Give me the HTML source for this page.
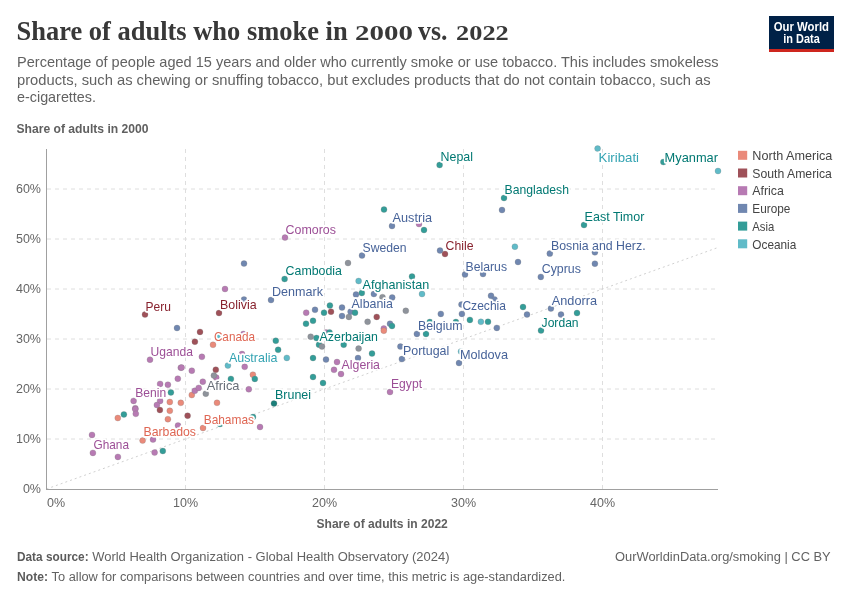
<!DOCTYPE html>
<html><head><meta charset="utf-8">
<style>
html,body{margin:0;padding:0;background:#fff;}
body{width:850px;height:600px;overflow:hidden;}
svg{display:block;will-change:transform;}
text{font-family:"Liberation Sans",sans-serif;}
.ser{font-family:"Liberation Serif",serif;}
</style></head><body>
<svg width="850" height="600" viewBox="0 0 850 600">
<rect x="0" y="0" width="850" height="600" fill="#fff"/>
<text class="ser" x="16.6" y="40.2" font-size="28" font-weight="bold" fill="#383838" textLength="331.0" lengthAdjust="spacingAndGlyphs">Share of adults who smoke in</text>
<text class="ser" x="355.1" y="40.2" font-size="20.5" font-weight="bold" fill="#383838" textLength="57.9" lengthAdjust="spacingAndGlyphs">2000</text>
<text class="ser" x="418.0" y="40.2" font-size="28" font-weight="bold" fill="#383838" textLength="29.4" lengthAdjust="spacingAndGlyphs">vs.</text>
<text class="ser" x="456.1" y="40.2" font-size="20.5" font-weight="bold" fill="#383838" textLength="52.7" lengthAdjust="spacingAndGlyphs">2022</text>
<text x="17" y="66.7" font-size="15" fill="#626262" textLength="701.6" lengthAdjust="spacingAndGlyphs">Percentage of people aged 15 years and older who currently smoke or use tobacco. This includes smokeless</text>
<text x="17" y="84.6" font-size="15" fill="#626262" textLength="693.7" lengthAdjust="spacingAndGlyphs">products, such as chewing or snuffing tobacco, but excludes products that do not contain tobacco, such as</text>
<text x="17" y="102.0" font-size="15" fill="#626262" textLength="79.0" lengthAdjust="spacingAndGlyphs">e-cigarettes.</text>
<rect x="769" y="16" width="65" height="36" fill="#002147"/>
<rect x="769" y="49" width="65" height="3" fill="#ce261e"/>
<text x="773.8" y="30.6" font-size="12" font-weight="bold" fill="#fff" textLength="55.2" lengthAdjust="spacingAndGlyphs">Our World</text>
<text x="783.3" y="42.7" font-size="12" font-weight="bold" fill="#fff" textLength="36.5" lengthAdjust="spacingAndGlyphs">in Data</text>
<text x="16.5" y="133" font-size="13" font-weight="bold" fill="#606060" textLength="132" lengthAdjust="spacingAndGlyphs">Share of adults in 2000</text>
<line x1="47" y1="439.0" x2="718" y2="439.0" stroke="#dedede" stroke-width="1" stroke-dasharray="4 4"/>
<line x1="47" y1="389.0" x2="718" y2="389.0" stroke="#dedede" stroke-width="1" stroke-dasharray="4 4"/>
<line x1="47" y1="339.0" x2="718" y2="339.0" stroke="#dedede" stroke-width="1" stroke-dasharray="4 4"/>
<line x1="47" y1="289.0" x2="718" y2="289.0" stroke="#dedede" stroke-width="1" stroke-dasharray="4 4"/>
<line x1="47" y1="239.0" x2="718" y2="239.0" stroke="#dedede" stroke-width="1" stroke-dasharray="4 4"/>
<line x1="47" y1="189.0" x2="718" y2="189.0" stroke="#dedede" stroke-width="1" stroke-dasharray="4 4"/>
<line x1="185.5" y1="149" x2="185.5" y2="489" stroke="#dedede" stroke-width="1" stroke-dasharray="4 4"/>
<line x1="324.5" y1="149" x2="324.5" y2="489" stroke="#dedede" stroke-width="1" stroke-dasharray="4 4"/>
<line x1="463.5" y1="149" x2="463.5" y2="489" stroke="#dedede" stroke-width="1" stroke-dasharray="4 4"/>
<line x1="602.5" y1="149" x2="602.5" y2="489" stroke="#dedede" stroke-width="1" stroke-dasharray="4 4"/>
<line x1="46.5" y1="489" x2="718" y2="247.5" stroke="#c4c4c4" stroke-width="0.8" stroke-dasharray="2 3"/>
<line x1="46.5" y1="149" x2="46.5" y2="489.5" stroke="#a0a0a0" stroke-width="1"/>
<line x1="46" y1="489.5" x2="718" y2="489.5" stroke="#a0a0a0" stroke-width="1"/>
<text x="41" y="493.4" font-size="12.5" fill="#666" text-anchor="end">0%</text>
<text x="41" y="443.4" font-size="12.5" fill="#666" text-anchor="end">10%</text>
<text x="41" y="393.4" font-size="12.5" fill="#666" text-anchor="end">20%</text>
<text x="41" y="343.4" font-size="12.5" fill="#666" text-anchor="end">30%</text>
<text x="41" y="293.4" font-size="12.5" fill="#666" text-anchor="end">40%</text>
<text x="41" y="243.4" font-size="12.5" fill="#666" text-anchor="end">50%</text>
<text x="41" y="193.4" font-size="12.5" fill="#666" text-anchor="end">60%</text>
<text x="47" y="507" font-size="12.5" fill="#666">0%</text>
<text x="185.5" y="507" font-size="12.5" fill="#666" text-anchor="middle">10%</text>
<text x="324.5" y="507" font-size="12.5" fill="#666" text-anchor="middle">20%</text>
<text x="463.5" y="507" font-size="12.5" fill="#666" text-anchor="middle">30%</text>
<text x="602.5" y="507" font-size="12.5" fill="#666" text-anchor="middle">40%</text>
<text x="316.5" y="528.1" font-size="13" font-weight="bold" fill="#606060" textLength="131.3" lengthAdjust="spacingAndGlyphs">Share of adults in 2022</text>
<circle cx="92" cy="434.9" r="3" fill="#b77ab3" stroke="#777" stroke-opacity="0.5" stroke-width="0.5"/>
<circle cx="92.9" cy="452.9" r="3" fill="#b77ab3" stroke="#777" stroke-opacity="0.5" stroke-width="0.5"/>
<circle cx="117.9" cy="456.9" r="3" fill="#b77ab3" stroke="#777" stroke-opacity="0.5" stroke-width="0.5"/>
<circle cx="117.8" cy="418" r="3" fill="#ea8a7a" stroke="#777" stroke-opacity="0.5" stroke-width="0.5"/>
<circle cx="123.9" cy="414.4" r="3" fill="#339d98" stroke="#777" stroke-opacity="0.5" stroke-width="0.5"/>
<circle cx="133.6" cy="400.9" r="3" fill="#b77ab3" stroke="#777" stroke-opacity="0.5" stroke-width="0.5"/>
<circle cx="135.3" cy="408.2" r="3" fill="#b77ab3" stroke="#777" stroke-opacity="0.5" stroke-width="0.5"/>
<circle cx="135.3" cy="409.2" r="3" fill="#b77ab3" stroke="#777" stroke-opacity="0.5" stroke-width="0.5"/>
<circle cx="135.8" cy="413.8" r="3" fill="#b77ab3" stroke="#777" stroke-opacity="0.5" stroke-width="0.5"/>
<circle cx="142.6" cy="440.6" r="3" fill="#ea8a7a" stroke="#777" stroke-opacity="0.5" stroke-width="0.5"/>
<circle cx="153" cy="439.6" r="3" fill="#b77ab3" stroke="#777" stroke-opacity="0.5" stroke-width="0.5"/>
<circle cx="154.6" cy="452.6" r="3" fill="#b77ab3" stroke="#777" stroke-opacity="0.5" stroke-width="0.5"/>
<circle cx="162.8" cy="451" r="3" fill="#339d98" stroke="#777" stroke-opacity="0.5" stroke-width="0.5"/>
<circle cx="160.1" cy="383.9" r="3" fill="#b77ab3" stroke="#777" stroke-opacity="0.5" stroke-width="0.5"/>
<circle cx="167.9" cy="384.7" r="3" fill="#b77ab3" stroke="#777" stroke-opacity="0.5" stroke-width="0.5"/>
<circle cx="177.8" cy="378.7" r="3" fill="#b77ab3" stroke="#777" stroke-opacity="0.5" stroke-width="0.5"/>
<circle cx="191.8" cy="370.7" r="3" fill="#b77ab3" stroke="#777" stroke-opacity="0.5" stroke-width="0.5"/>
<circle cx="180.8" cy="367.7" r="3" fill="#b77ab3" stroke="#777" stroke-opacity="0.5" stroke-width="0.5"/>
<circle cx="170.9" cy="392.4" r="3" fill="#339d98" stroke="#777" stroke-opacity="0.5" stroke-width="0.5"/>
<circle cx="160.1" cy="400.9" r="3" fill="#b77ab3" stroke="#777" stroke-opacity="0.5" stroke-width="0.5"/>
<circle cx="156.9" cy="405" r="3" fill="#b77ab3" stroke="#777" stroke-opacity="0.5" stroke-width="0.5"/>
<circle cx="159.9" cy="410" r="3" fill="#9f5159" stroke="#777" stroke-opacity="0.5" stroke-width="0.5"/>
<circle cx="169.8" cy="402" r="3" fill="#ea8a7a" stroke="#777" stroke-opacity="0.5" stroke-width="0.5"/>
<circle cx="169.8" cy="410.8" r="3" fill="#ea8a7a" stroke="#777" stroke-opacity="0.5" stroke-width="0.5"/>
<circle cx="167.9" cy="419.2" r="3" fill="#ea8a7a" stroke="#777" stroke-opacity="0.5" stroke-width="0.5"/>
<circle cx="180.8" cy="402.8" r="3" fill="#ea8a7a" stroke="#777" stroke-opacity="0.5" stroke-width="0.5"/>
<circle cx="178" cy="425.6" r="3" fill="#b77ab3" stroke="#777" stroke-opacity="0.5" stroke-width="0.5"/>
<circle cx="187.6" cy="415.7" r="3" fill="#9f5159" stroke="#777" stroke-opacity="0.5" stroke-width="0.5"/>
<circle cx="191.8" cy="395" r="3" fill="#ea8a7a" stroke="#777" stroke-opacity="0.5" stroke-width="0.5"/>
<circle cx="194.8" cy="390.8" r="3" fill="#b77ab3" stroke="#777" stroke-opacity="0.5" stroke-width="0.5"/>
<circle cx="198.7" cy="387.9" r="3" fill="#b77ab3" stroke="#777" stroke-opacity="0.5" stroke-width="0.5"/>
<circle cx="202.8" cy="381.7" r="3" fill="#b77ab3" stroke="#777" stroke-opacity="0.5" stroke-width="0.5"/>
<circle cx="205.8" cy="393.7" r="3" fill="#8e939b" stroke="#777" stroke-opacity="0.5" stroke-width="0.5"/>
<circle cx="203" cy="428" r="3" fill="#ea8a7a" stroke="#777" stroke-opacity="0.5" stroke-width="0.5"/>
<circle cx="217" cy="402.8" r="3" fill="#ea8a7a" stroke="#777" stroke-opacity="0.5" stroke-width="0.5"/>
<circle cx="145" cy="314.6" r="3" fill="#9f5159" stroke="#777" stroke-opacity="0.5" stroke-width="0.5"/>
<circle cx="177" cy="328" r="3" fill="#7087b0" stroke="#777" stroke-opacity="0.5" stroke-width="0.5"/>
<circle cx="200" cy="331.9" r="3" fill="#9f5159" stroke="#777" stroke-opacity="0.5" stroke-width="0.5"/>
<circle cx="194.9" cy="341.7" r="3" fill="#9f5159" stroke="#777" stroke-opacity="0.5" stroke-width="0.5"/>
<circle cx="150" cy="359.7" r="3" fill="#b77ab3" stroke="#777" stroke-opacity="0.5" stroke-width="0.5"/>
<circle cx="201.9" cy="356.8" r="3" fill="#b77ab3" stroke="#777" stroke-opacity="0.5" stroke-width="0.5"/>
<circle cx="181.6" cy="367.6" r="3" fill="#b77ab3" stroke="#777" stroke-opacity="0.5" stroke-width="0.5"/>
<circle cx="216.2" cy="377.6" r="3" fill="#b77ab3" stroke="#777" stroke-opacity="0.5" stroke-width="0.5"/>
<circle cx="213.9" cy="375.6" r="3" fill="#8e939b" stroke="#777" stroke-opacity="0.5" stroke-width="0.5"/>
<circle cx="215.8" cy="369.7" r="3" fill="#9f5159" stroke="#777" stroke-opacity="0.5" stroke-width="0.5"/>
<circle cx="230.9" cy="378.9" r="3" fill="#339d98" stroke="#777" stroke-opacity="0.5" stroke-width="0.5"/>
<circle cx="252.9" cy="374.7" r="3" fill="#ea8a7a" stroke="#777" stroke-opacity="0.5" stroke-width="0.5"/>
<circle cx="254.8" cy="378.9" r="3" fill="#339d98" stroke="#777" stroke-opacity="0.5" stroke-width="0.5"/>
<circle cx="248.8" cy="389.3" r="3" fill="#b77ab3" stroke="#777" stroke-opacity="0.5" stroke-width="0.5"/>
<circle cx="274" cy="403.4" r="3" fill="#1c7f7a" stroke="#777" stroke-opacity="0.5" stroke-width="0.5"/>
<circle cx="253" cy="417" r="3" fill="#339d98" stroke="#777" stroke-opacity="0.5" stroke-width="0.5"/>
<circle cx="220" cy="424" r="3" fill="#339d98" stroke="#777" stroke-opacity="0.5" stroke-width="0.5"/>
<circle cx="260" cy="427" r="3" fill="#b77ab3" stroke="#777" stroke-opacity="0.5" stroke-width="0.5"/>
<circle cx="313" cy="377" r="3" fill="#339d98" stroke="#777" stroke-opacity="0.5" stroke-width="0.5"/>
<circle cx="323" cy="383" r="3" fill="#339d98" stroke="#777" stroke-opacity="0.5" stroke-width="0.5"/>
<circle cx="334" cy="369.8" r="3" fill="#b77ab3" stroke="#777" stroke-opacity="0.5" stroke-width="0.5"/>
<circle cx="341" cy="374" r="3" fill="#b77ab3" stroke="#777" stroke-opacity="0.5" stroke-width="0.5"/>
<circle cx="227.9" cy="365.6" r="3" fill="#60bbc8" stroke="#777" stroke-opacity="0.5" stroke-width="0.5"/>
<circle cx="244.7" cy="366.8" r="3" fill="#b77ab3" stroke="#777" stroke-opacity="0.5" stroke-width="0.5"/>
<circle cx="244" cy="263.6" r="3" fill="#7087b0" stroke="#777" stroke-opacity="0.5" stroke-width="0.5"/>
<circle cx="348" cy="263" r="3" fill="#8e939b" stroke="#777" stroke-opacity="0.5" stroke-width="0.5"/>
<circle cx="284.6" cy="279" r="3" fill="#339d98" stroke="#777" stroke-opacity="0.5" stroke-width="0.5"/>
<circle cx="358.6" cy="281" r="3" fill="#60bbc8" stroke="#777" stroke-opacity="0.5" stroke-width="0.5"/>
<circle cx="225" cy="289" r="3" fill="#b77ab3" stroke="#777" stroke-opacity="0.5" stroke-width="0.5"/>
<circle cx="271" cy="300" r="3" fill="#7087b0" stroke="#777" stroke-opacity="0.5" stroke-width="0.5"/>
<circle cx="244" cy="299.6" r="3" fill="#7087b0" stroke="#777" stroke-opacity="0.5" stroke-width="0.5"/>
<circle cx="361.8" cy="293" r="3" fill="#339d98" stroke="#777" stroke-opacity="0.5" stroke-width="0.5"/>
<circle cx="356" cy="294.5" r="3" fill="#7087b0" stroke="#777" stroke-opacity="0.5" stroke-width="0.5"/>
<circle cx="373.9" cy="294" r="3" fill="#7087b0" stroke="#777" stroke-opacity="0.5" stroke-width="0.5"/>
<circle cx="382.5" cy="297.2" r="3" fill="#8e939b" stroke="#777" stroke-opacity="0.5" stroke-width="0.5"/>
<circle cx="392.2" cy="297.5" r="3" fill="#7087b0" stroke="#777" stroke-opacity="0.5" stroke-width="0.5"/>
<circle cx="219" cy="313" r="3" fill="#9f5159" stroke="#777" stroke-opacity="0.5" stroke-width="0.5"/>
<circle cx="306.2" cy="312.7" r="3" fill="#b77ab3" stroke="#777" stroke-opacity="0.5" stroke-width="0.5"/>
<circle cx="315" cy="309.8" r="3" fill="#7087b0" stroke="#777" stroke-opacity="0.5" stroke-width="0.5"/>
<circle cx="324" cy="312.7" r="3" fill="#339d98" stroke="#777" stroke-opacity="0.5" stroke-width="0.5"/>
<circle cx="329.9" cy="305.6" r="3" fill="#339d98" stroke="#777" stroke-opacity="0.5" stroke-width="0.5"/>
<circle cx="331" cy="311.7" r="3" fill="#9f5159" stroke="#777" stroke-opacity="0.5" stroke-width="0.5"/>
<circle cx="342" cy="307.6" r="3" fill="#7087b0" stroke="#777" stroke-opacity="0.5" stroke-width="0.5"/>
<circle cx="342" cy="316" r="3" fill="#7087b0" stroke="#777" stroke-opacity="0.5" stroke-width="0.5"/>
<circle cx="348.9" cy="316.9" r="3" fill="#8e939b" stroke="#777" stroke-opacity="0.5" stroke-width="0.5"/>
<circle cx="350.6" cy="311.7" r="3" fill="#7087b0" stroke="#777" stroke-opacity="0.5" stroke-width="0.5"/>
<circle cx="355" cy="312.7" r="3" fill="#339d98" stroke="#777" stroke-opacity="0.5" stroke-width="0.5"/>
<circle cx="306" cy="323.7" r="3" fill="#339d98" stroke="#777" stroke-opacity="0.5" stroke-width="0.5"/>
<circle cx="313" cy="320.8" r="3" fill="#339d98" stroke="#777" stroke-opacity="0.5" stroke-width="0.5"/>
<circle cx="367.6" cy="321.8" r="3" fill="#8e939b" stroke="#777" stroke-opacity="0.5" stroke-width="0.5"/>
<circle cx="376.7" cy="316.9" r="3" fill="#9f5159" stroke="#777" stroke-opacity="0.5" stroke-width="0.5"/>
<circle cx="390" cy="323.7" r="3" fill="#7087b0" stroke="#777" stroke-opacity="0.5" stroke-width="0.5"/>
<circle cx="392" cy="326" r="3" fill="#339d98" stroke="#777" stroke-opacity="0.5" stroke-width="0.5"/>
<circle cx="383.8" cy="328.5" r="3" fill="#b77ab3" stroke="#777" stroke-opacity="0.5" stroke-width="0.5"/>
<circle cx="383.8" cy="330.7" r="3" fill="#ea8a7a" stroke="#777" stroke-opacity="0.5" stroke-width="0.5"/>
<circle cx="310.7" cy="336.7" r="3" fill="#8e939b" stroke="#777" stroke-opacity="0.5" stroke-width="0.5"/>
<circle cx="316.5" cy="338" r="3" fill="#339d98" stroke="#777" stroke-opacity="0.5" stroke-width="0.5"/>
<circle cx="326" cy="332.4" r="3" fill="#b77ab3" stroke="#777" stroke-opacity="0.5" stroke-width="0.5"/>
<circle cx="329.5" cy="332.4" r="3" fill="#339d98" stroke="#777" stroke-opacity="0.5" stroke-width="0.5"/>
<circle cx="319" cy="344.7" r="3" fill="#339d98" stroke="#777" stroke-opacity="0.5" stroke-width="0.5"/>
<circle cx="322" cy="346.6" r="3" fill="#8e939b" stroke="#777" stroke-opacity="0.5" stroke-width="0.5"/>
<circle cx="343.7" cy="344.7" r="3" fill="#339d98" stroke="#777" stroke-opacity="0.5" stroke-width="0.5"/>
<circle cx="358.6" cy="348.6" r="3" fill="#8e939b" stroke="#777" stroke-opacity="0.5" stroke-width="0.5"/>
<circle cx="400.4" cy="346.6" r="3" fill="#7087b0" stroke="#777" stroke-opacity="0.5" stroke-width="0.5"/>
<circle cx="213" cy="344.8" r="3" fill="#ea8a7a" stroke="#777" stroke-opacity="0.5" stroke-width="0.5"/>
<circle cx="217.5" cy="336.2" r="3" fill="#60bbc8" stroke="#777" stroke-opacity="0.5" stroke-width="0.5"/>
<circle cx="275.8" cy="340.7" r="3" fill="#339d98" stroke="#777" stroke-opacity="0.5" stroke-width="0.5"/>
<circle cx="278.1" cy="349.8" r="3" fill="#339d98" stroke="#777" stroke-opacity="0.5" stroke-width="0.5"/>
<circle cx="286.8" cy="357.9" r="3" fill="#60bbc8" stroke="#777" stroke-opacity="0.5" stroke-width="0.5"/>
<circle cx="372" cy="353.6" r="3" fill="#339d98" stroke="#777" stroke-opacity="0.5" stroke-width="0.5"/>
<circle cx="313" cy="358" r="3" fill="#339d98" stroke="#777" stroke-opacity="0.5" stroke-width="0.5"/>
<circle cx="326" cy="359.6" r="3" fill="#7087b0" stroke="#777" stroke-opacity="0.5" stroke-width="0.5"/>
<circle cx="337" cy="362" r="3" fill="#b77ab3" stroke="#777" stroke-opacity="0.5" stroke-width="0.5"/>
<circle cx="358" cy="358" r="3" fill="#7087b0" stroke="#777" stroke-opacity="0.5" stroke-width="0.5"/>
<circle cx="243.4" cy="334" r="3" fill="#b77ab3" stroke="#777" stroke-opacity="0.5" stroke-width="0.5"/>
<circle cx="242" cy="354" r="3" fill="#b77ab3" stroke="#777" stroke-opacity="0.5" stroke-width="0.5"/>
<circle cx="518" cy="262" r="3" fill="#7087b0" stroke="#777" stroke-opacity="0.5" stroke-width="0.5"/>
<circle cx="465" cy="274.6" r="3" fill="#7087b0" stroke="#777" stroke-opacity="0.5" stroke-width="0.5"/>
<circle cx="483" cy="274" r="3" fill="#7087b0" stroke="#777" stroke-opacity="0.5" stroke-width="0.5"/>
<circle cx="412" cy="276.6" r="3" fill="#339d98" stroke="#777" stroke-opacity="0.5" stroke-width="0.5"/>
<circle cx="422" cy="294" r="3" fill="#60bbc8" stroke="#777" stroke-opacity="0.5" stroke-width="0.5"/>
<circle cx="405.8" cy="310.8" r="3" fill="#8e939b" stroke="#777" stroke-opacity="0.5" stroke-width="0.5"/>
<circle cx="440.8" cy="313.9" r="3" fill="#7087b0" stroke="#777" stroke-opacity="0.5" stroke-width="0.5"/>
<circle cx="461.9" cy="313.9" r="3" fill="#7087b0" stroke="#777" stroke-opacity="0.5" stroke-width="0.5"/>
<circle cx="461.5" cy="304.5" r="3" fill="#7087b0" stroke="#777" stroke-opacity="0.5" stroke-width="0.5"/>
<circle cx="491" cy="295.8" r="3" fill="#7087b0" stroke="#777" stroke-opacity="0.5" stroke-width="0.5"/>
<circle cx="494.5" cy="299.4" r="3" fill="#7087b0" stroke="#777" stroke-opacity="0.5" stroke-width="0.5"/>
<circle cx="523" cy="307" r="3" fill="#339d98" stroke="#777" stroke-opacity="0.5" stroke-width="0.5"/>
<circle cx="527" cy="314.6" r="3" fill="#7087b0" stroke="#777" stroke-opacity="0.5" stroke-width="0.5"/>
<circle cx="469.9" cy="319.9" r="3" fill="#339d98" stroke="#777" stroke-opacity="0.5" stroke-width="0.5"/>
<circle cx="480.9" cy="321.8" r="3" fill="#60bbc8" stroke="#777" stroke-opacity="0.5" stroke-width="0.5"/>
<circle cx="488" cy="321.8" r="3" fill="#339d98" stroke="#777" stroke-opacity="0.5" stroke-width="0.5"/>
<circle cx="496.8" cy="327.9" r="3" fill="#7087b0" stroke="#777" stroke-opacity="0.5" stroke-width="0.5"/>
<circle cx="416.9" cy="333.9" r="3" fill="#7087b0" stroke="#777" stroke-opacity="0.5" stroke-width="0.5"/>
<circle cx="426" cy="333.9" r="3" fill="#339d98" stroke="#777" stroke-opacity="0.5" stroke-width="0.5"/>
<circle cx="429.8" cy="322" r="3" fill="#339d98" stroke="#777" stroke-opacity="0.5" stroke-width="0.5"/>
<circle cx="455.9" cy="322" r="3" fill="#339d98" stroke="#777" stroke-opacity="0.5" stroke-width="0.5"/>
<circle cx="401.9" cy="359.1" r="3" fill="#7087b0" stroke="#777" stroke-opacity="0.5" stroke-width="0.5"/>
<circle cx="459" cy="363" r="3" fill="#7087b0" stroke="#777" stroke-opacity="0.5" stroke-width="0.5"/>
<circle cx="461" cy="351.5" r="3" fill="#60bbc8" stroke="#777" stroke-opacity="0.5" stroke-width="0.5"/>
<circle cx="594.9" cy="263.7" r="3" fill="#7087b0" stroke="#777" stroke-opacity="0.5" stroke-width="0.5"/>
<circle cx="540.8" cy="276.9" r="3" fill="#7087b0" stroke="#777" stroke-opacity="0.5" stroke-width="0.5"/>
<circle cx="550.9" cy="308.6" r="3" fill="#7087b0" stroke="#777" stroke-opacity="0.5" stroke-width="0.5"/>
<circle cx="561" cy="314.6" r="3" fill="#7087b0" stroke="#777" stroke-opacity="0.5" stroke-width="0.5"/>
<circle cx="577" cy="313" r="3" fill="#339d98" stroke="#777" stroke-opacity="0.5" stroke-width="0.5"/>
<circle cx="541" cy="330.6" r="3" fill="#339d98" stroke="#777" stroke-opacity="0.5" stroke-width="0.5"/>
<circle cx="285" cy="237.6" r="3" fill="#b77ab3" stroke="#777" stroke-opacity="0.5" stroke-width="0.5"/>
<circle cx="362" cy="255.6" r="3" fill="#7087b0" stroke="#777" stroke-opacity="0.5" stroke-width="0.5"/>
<circle cx="439.6" cy="165" r="3" fill="#339d98" stroke="#777" stroke-opacity="0.5" stroke-width="0.5"/>
<circle cx="504" cy="198" r="3" fill="#339d98" stroke="#777" stroke-opacity="0.5" stroke-width="0.5"/>
<circle cx="502" cy="210" r="3" fill="#7087b0" stroke="#777" stroke-opacity="0.5" stroke-width="0.5"/>
<circle cx="384" cy="209.6" r="3" fill="#339d98" stroke="#777" stroke-opacity="0.5" stroke-width="0.5"/>
<circle cx="392" cy="226" r="3" fill="#7087b0" stroke="#777" stroke-opacity="0.5" stroke-width="0.5"/>
<circle cx="419" cy="224" r="3" fill="#b77ab3" stroke="#777" stroke-opacity="0.5" stroke-width="0.5"/>
<circle cx="424" cy="230" r="3" fill="#339d98" stroke="#777" stroke-opacity="0.5" stroke-width="0.5"/>
<circle cx="440" cy="250.6" r="3" fill="#7087b0" stroke="#777" stroke-opacity="0.5" stroke-width="0.5"/>
<circle cx="445" cy="254" r="3" fill="#9f5159" stroke="#777" stroke-opacity="0.5" stroke-width="0.5"/>
<circle cx="514.9" cy="246.7" r="3" fill="#60bbc8" stroke="#777" stroke-opacity="0.5" stroke-width="0.5"/>
<circle cx="597.6" cy="148.6" r="3" fill="#60bbc8" stroke="#777" stroke-opacity="0.5" stroke-width="0.5"/>
<circle cx="663.4" cy="162" r="3" fill="#339d98" stroke="#777" stroke-opacity="0.5" stroke-width="0.5"/>
<circle cx="584" cy="225" r="3" fill="#339d98" stroke="#777" stroke-opacity="0.5" stroke-width="0.5"/>
<circle cx="549.8" cy="253.6" r="3" fill="#7087b0" stroke="#777" stroke-opacity="0.5" stroke-width="0.5"/>
<circle cx="594.9" cy="252.3" r="3" fill="#7087b0" stroke="#777" stroke-opacity="0.5" stroke-width="0.5"/>
<circle cx="718" cy="171" r="3" fill="#60bbc8" stroke="#777" stroke-opacity="0.5" stroke-width="0.5"/>
<circle cx="390" cy="392" r="3" fill="#b77ab3" stroke="#777" stroke-opacity="0.5" stroke-width="0.5"/>
<text x="440.6" y="161.4" font-size="13.6" fill="#007872" stroke="#fff" stroke-width="3.5" stroke-linejoin="round" paint-order="stroke" textLength="32.4" lengthAdjust="spacingAndGlyphs">Nepal</text>
<text x="598.6" y="161.8" font-size="13.6" fill="#33a3b2" stroke="#fff" stroke-width="3.5" stroke-linejoin="round" paint-order="stroke" textLength="40.4" lengthAdjust="spacingAndGlyphs">Kiribati</text>
<text x="664.6" y="161.8" font-size="13.6" fill="#007872" stroke="#fff" stroke-width="3.5" stroke-linejoin="round" paint-order="stroke" textLength="53.4" lengthAdjust="spacingAndGlyphs">Myanmar</text>
<text x="504.6" y="194.0" font-size="13.6" fill="#007872" stroke="#fff" stroke-width="3.5" stroke-linejoin="round" paint-order="stroke" textLength="64.4" lengthAdjust="spacingAndGlyphs">Bangladesh</text>
<text x="392.6" y="222.0" font-size="13.6" fill="#476399" stroke="#fff" stroke-width="3.5" stroke-linejoin="round" paint-order="stroke" textLength="39.4" lengthAdjust="spacingAndGlyphs">Austria</text>
<text x="584.6" y="221.0" font-size="13.6" fill="#007872" stroke="#fff" stroke-width="3.5" stroke-linejoin="round" paint-order="stroke" textLength="59.8" lengthAdjust="spacingAndGlyphs">East Timor</text>
<text x="285.6" y="234.0" font-size="13.6" fill="#9c4e96" stroke="#fff" stroke-width="3.5" stroke-linejoin="round" paint-order="stroke" textLength="50.4" lengthAdjust="spacingAndGlyphs">Comoros</text>
<text x="445.6" y="249.8" font-size="13.6" fill="#88222e" stroke="#fff" stroke-width="3.5" stroke-linejoin="round" paint-order="stroke" textLength="28.0" lengthAdjust="spacingAndGlyphs">Chile</text>
<text x="362.6" y="252.0" font-size="13.6" fill="#476399" stroke="#fff" stroke-width="3.5" stroke-linejoin="round" paint-order="stroke" textLength="44.0" lengthAdjust="spacingAndGlyphs">Sweden</text>
<text x="550.9" y="250.1" font-size="13.6" fill="#476399" stroke="#fff" stroke-width="3.5" stroke-linejoin="round" paint-order="stroke" textLength="94.7" lengthAdjust="spacingAndGlyphs">Bosnia and Herz.</text>
<text x="465.6" y="270.8" font-size="13.6" fill="#476399" stroke="#fff" stroke-width="3.5" stroke-linejoin="round" paint-order="stroke" textLength="41.4" lengthAdjust="spacingAndGlyphs">Belarus</text>
<text x="541.7" y="272.8" font-size="13.6" fill="#476399" stroke="#fff" stroke-width="3.5" stroke-linejoin="round" paint-order="stroke" textLength="39.2" lengthAdjust="spacingAndGlyphs">Cyprus</text>
<text x="285.6" y="275.0" font-size="13.6" fill="#007872" stroke="#fff" stroke-width="3.5" stroke-linejoin="round" paint-order="stroke" textLength="56.4" lengthAdjust="spacingAndGlyphs">Cambodia</text>
<text x="362.6" y="289.0" font-size="13.6" fill="#007872" stroke="#fff" stroke-width="3.5" stroke-linejoin="round" paint-order="stroke" textLength="66.6" lengthAdjust="spacingAndGlyphs">Afghanistan</text>
<text x="272" y="296.0" font-size="13.6" fill="#476399" stroke="#fff" stroke-width="3.5" stroke-linejoin="round" paint-order="stroke" textLength="51.0" lengthAdjust="spacingAndGlyphs">Denmark</text>
<text x="551.8" y="304.7" font-size="13.6" fill="#476399" stroke="#fff" stroke-width="3.5" stroke-linejoin="round" paint-order="stroke" textLength="45.2" lengthAdjust="spacingAndGlyphs">Andorra</text>
<text x="220" y="309.0" font-size="13.6" fill="#88222e" stroke="#fff" stroke-width="3.5" stroke-linejoin="round" paint-order="stroke" textLength="36.6" lengthAdjust="spacingAndGlyphs">Bolivia</text>
<text x="351.6" y="308.4" font-size="13.6" fill="#476399" stroke="#fff" stroke-width="3.5" stroke-linejoin="round" paint-order="stroke" textLength="41.4" lengthAdjust="spacingAndGlyphs">Albania</text>
<text x="462.4" y="309.9" font-size="13.6" fill="#476399" stroke="#fff" stroke-width="3.5" stroke-linejoin="round" paint-order="stroke" textLength="43.6" lengthAdjust="spacingAndGlyphs">Czechia</text>
<text x="145.6" y="311.0" font-size="13.6" fill="#88222e" stroke="#fff" stroke-width="3.5" stroke-linejoin="round" paint-order="stroke" textLength="25.4" lengthAdjust="spacingAndGlyphs">Peru</text>
<text x="541.6" y="326.8" font-size="13.6" fill="#007872" stroke="#fff" stroke-width="3.5" stroke-linejoin="round" paint-order="stroke" textLength="37.0" lengthAdjust="spacingAndGlyphs">Jordan</text>
<text x="418" y="330.0" font-size="13.6" fill="#476399" stroke="#fff" stroke-width="3.5" stroke-linejoin="round" paint-order="stroke" textLength="44.5" lengthAdjust="spacingAndGlyphs">Belgium</text>
<text x="213.9" y="340.8" font-size="13.6" fill="#df6653" stroke="#fff" stroke-width="3.5" stroke-linejoin="round" paint-order="stroke" textLength="41.1" lengthAdjust="spacingAndGlyphs">Canada</text>
<text x="319.6" y="340.8" font-size="13.6" fill="#007872" stroke="#fff" stroke-width="3.5" stroke-linejoin="round" paint-order="stroke" textLength="58.4" lengthAdjust="spacingAndGlyphs">Azerbaijan</text>
<text x="403" y="354.7" font-size="13.6" fill="#476399" stroke="#fff" stroke-width="3.5" stroke-linejoin="round" paint-order="stroke" textLength="46.3" lengthAdjust="spacingAndGlyphs">Portugal</text>
<text x="150.6" y="356.0" font-size="13.6" fill="#9c4e96" stroke="#fff" stroke-width="3.5" stroke-linejoin="round" paint-order="stroke" textLength="42.4" lengthAdjust="spacingAndGlyphs">Uganda</text>
<text x="459.9" y="358.9" font-size="13.6" fill="#476399" stroke="#fff" stroke-width="3.5" stroke-linejoin="round" paint-order="stroke" textLength="48.1" lengthAdjust="spacingAndGlyphs">Moldova</text>
<text x="228.9" y="361.8" font-size="13.6" fill="#33a3b2" stroke="#fff" stroke-width="3.5" stroke-linejoin="round" paint-order="stroke" textLength="48.5" lengthAdjust="spacingAndGlyphs">Australia</text>
<text x="341.6" y="369.4" font-size="13.6" fill="#9c4e96" stroke="#fff" stroke-width="3.5" stroke-linejoin="round" paint-order="stroke" textLength="38.4" lengthAdjust="spacingAndGlyphs">Algeria</text>
<text x="391" y="388.0" font-size="13.6" fill="#9c4e96" stroke="#fff" stroke-width="3.5" stroke-linejoin="round" paint-order="stroke" textLength="31.0" lengthAdjust="spacingAndGlyphs">Egypt</text>
<text x="206.7" y="389.8" font-size="13.6" fill="#686e78" stroke="#fff" stroke-width="3.5" stroke-linejoin="round" paint-order="stroke" textLength="32.8" lengthAdjust="spacingAndGlyphs">Africa</text>
<text x="135.3" y="396.7" font-size="13.6" fill="#9c4e96" stroke="#fff" stroke-width="3.5" stroke-linejoin="round" paint-order="stroke" textLength="30.9" lengthAdjust="spacingAndGlyphs">Benin</text>
<text x="275" y="399.0" font-size="13.6" fill="#007872" stroke="#fff" stroke-width="3.5" stroke-linejoin="round" paint-order="stroke" textLength="36.0" lengthAdjust="spacingAndGlyphs">Brunei</text>
<text x="203.7" y="424.0" font-size="13.6" fill="#df6653" stroke="#fff" stroke-width="3.5" stroke-linejoin="round" paint-order="stroke" textLength="50.3" lengthAdjust="spacingAndGlyphs">Bahamas</text>
<text x="143.5" y="436.4" font-size="13.6" fill="#df6653" stroke="#fff" stroke-width="3.5" stroke-linejoin="round" paint-order="stroke" textLength="52.5" lengthAdjust="spacingAndGlyphs">Barbados</text>
<text x="93.5" y="449.1" font-size="13.6" fill="#9c4e96" stroke="#fff" stroke-width="3.5" stroke-linejoin="round" paint-order="stroke" textLength="35.5" lengthAdjust="spacingAndGlyphs">Ghana</text>
<rect x="738" y="150.8" width="9.2" height="9" fill="#ea8a7a"/>
<text x="752.3" y="160.0" font-size="12.4" fill="#444" textLength="80" lengthAdjust="spacingAndGlyphs">North America</text>
<rect x="738" y="168.5" width="9.2" height="9" fill="#9f5159"/>
<text x="752.3" y="177.7" font-size="12.4" fill="#444" textLength="79.6" lengthAdjust="spacingAndGlyphs">South America</text>
<rect x="738" y="186.2" width="9.2" height="9" fill="#b77ab3"/>
<text x="752.3" y="195.4" font-size="12.4" fill="#444" textLength="31.6" lengthAdjust="spacingAndGlyphs">Africa</text>
<rect x="738" y="203.9" width="9.2" height="9" fill="#7087b0"/>
<text x="752.3" y="213.1" font-size="12.4" fill="#444" textLength="38" lengthAdjust="spacingAndGlyphs">Europe</text>
<rect x="738" y="221.6" width="9.2" height="9" fill="#339d98"/>
<text x="752.3" y="230.8" font-size="12.4" fill="#444" textLength="22" lengthAdjust="spacingAndGlyphs">Asia</text>
<rect x="738" y="239.3" width="9.2" height="9" fill="#60bbc8"/>
<text x="752.3" y="248.5" font-size="12.4" fill="#444" textLength="44" lengthAdjust="spacingAndGlyphs">Oceania</text>
<text x="17" y="560.7" font-size="12.5" font-weight="bold" fill="#5b5b5b" textLength="71.6" lengthAdjust="spacingAndGlyphs">Data source:</text>
<text x="92.2" y="560.7" font-size="12.5" fill="#626262" textLength="357.3" lengthAdjust="spacingAndGlyphs">World Health Organization - Global Health Observatory (2024)</text>
<text x="615" y="560.7" font-size="12.5" fill="#626262" textLength="215.7" lengthAdjust="spacingAndGlyphs">OurWorldinData.org/smoking | CC BY</text>
<text x="17" y="580.7" font-size="12.5" font-weight="bold" fill="#5b5b5b" textLength="31" lengthAdjust="spacingAndGlyphs">Note:</text>
<text x="51.6" y="580.7" font-size="12.5" fill="#626262" textLength="513.8" lengthAdjust="spacingAndGlyphs">To allow for comparisons between countries and over time, this metric is age-standardized.</text>
</svg></body></html>
